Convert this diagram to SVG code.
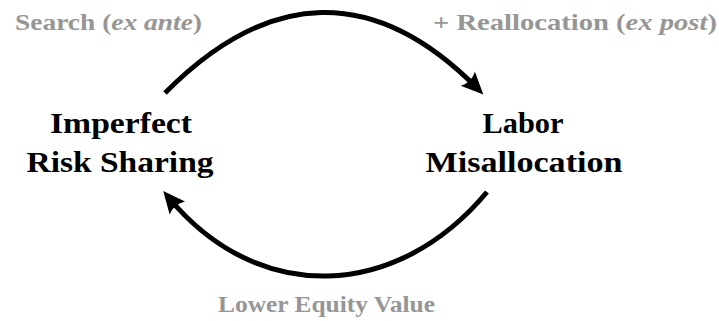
<svg xmlns="http://www.w3.org/2000/svg" width="719" height="321" viewBox="0 0 719 321">
  <style>
    .node { font-family: "Liberation Serif", "DejaVu Serif", serif; font-weight: bold; font-size: 30px; fill: #000; text-anchor: middle; }
    .label { font-family: "Liberation Serif", "DejaVu Serif", serif; font-weight: bold; font-size: 23px; fill: #969696; }
    .it { font-style: italic; }
    .arc { fill: none; stroke: #000; stroke-width: 5; }
  </style>
  <defs>
    <marker id="head" markerUnits="userSpaceOnUse" viewBox="-14 -12 24 24" markerWidth="24" markerHeight="24" refX="0" refY="0" orient="auto" overflow="visible">
      <path d="M9,0 L-13,-10 Q-8,0 -13,10 Z" fill="#000"/>
    </marker>
  </defs>

  <rect width="719" height="321" fill="#fff"/>

  <!-- feedback loop connectors -->
  <g id="connectors">
    <path class="arc" d="M165,93 C268,-11 374,-16 477,88" marker-end="url(#head)"/>
    <path class="arc" d="M487,192 C397,300 259,306 169,198" marker-end="url(#head)"/>
  </g>

  <!-- loop labels -->
  <g id="labels">
    <text class="label" x="15" y="30" textLength="187" lengthAdjust="spacingAndGlyphs">Search (<tspan class="it">ex ante</tspan>)</text>
    <text class="label" x="433" y="30" textLength="284" lengthAdjust="spacingAndGlyphs">+ Reallocation (<tspan class="it">ex post</tspan>)</text>
    <text class="label" x="218" y="312" textLength="217" lengthAdjust="spacingAndGlyphs">Lower Equity Value</text>
  </g>

  <g id="risk-sharing">
    <text class="node" x="121" y="133" textLength="142" lengthAdjust="spacingAndGlyphs">Imperfect</text>
    <text class="node" x="120" y="172" textLength="187" lengthAdjust="spacingAndGlyphs">Risk Sharing</text>
  </g>

  <g id="misallocation">
    <text class="node" x="523" y="133" textLength="81" lengthAdjust="spacingAndGlyphs">Labor</text>
    <text class="node" x="524" y="172" textLength="197" lengthAdjust="spacingAndGlyphs">Misallocation</text>
  </g>
</svg>
